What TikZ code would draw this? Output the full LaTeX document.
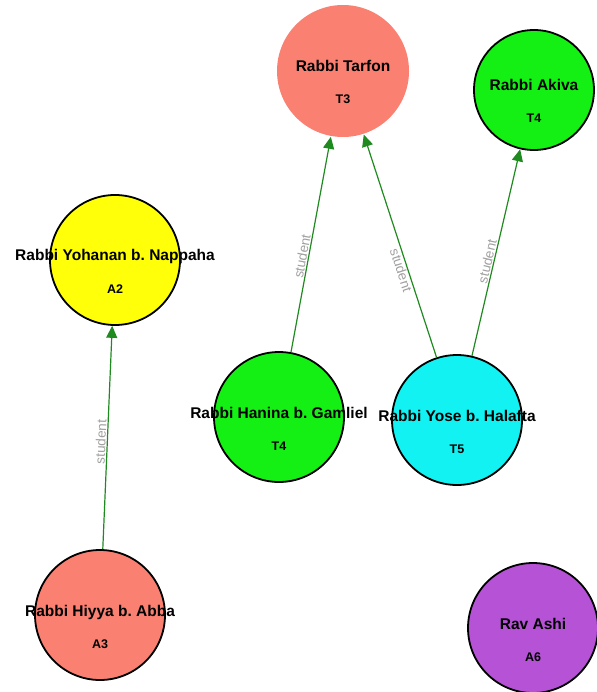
\documentclass[tikz,border=0pt]{standalone}
\usepackage{fontspec}
\setmainfont{Liberation Sans}
\usetikzlibrary{arrows.meta}
\definecolor{salmonfill}{HTML}{FA8072}
\definecolor{limefill}{HTML}{14F014}
\definecolor{yellowfill}{HTML}{FFFF0A}
\definecolor{cyanfill}{HTML}{12F2F2}
\definecolor{orchidfill}{HTML}{B552D5}
\definecolor{edgegreen}{HTML}{1F8A1F}
\definecolor{labelgray}{HTML}{A0A0A0}
\frenchspacing

\begin{document}
\begin{tikzpicture}[x=1pt,y=-1pt,>={Triangle[length=12pt,width=11pt]}]
\tikzstyle{person}=[circle,draw=black,line width=1.8pt,inner sep=0pt,minimum size=130pt]
\tikzstyle{rabbiname}=[anchor=base,inner sep=0pt,font=\fontsize{15.5}{17}\selectfont\bfseries]
\tikzstyle{eralabel}=[anchor=base,inner sep=0pt,font=\fontsize{12.5}{14}\selectfont\bfseries]
\tikzstyle{edge}=[->,draw=edgegreen,line width=1.2pt]
\tikzstyle{rel}=[sloped,inner sep=1pt,text=labelgray,font=\fontsize{13.5}{15}\selectfont]
\useasboundingbox (0,0) rectangle (596,692);
% rabbis
\node[person,fill=salmonfill,draw=none,minimum size=132pt] (tarfon) at (343,71) {};
\node[rabbiname] (tarfonname) at ([yshift=-1pt]tarfon.center) {Rabbi Tarfon};
\node[eralabel] (tarfonera) at ([yshift=-33pt]tarfon.center) {T3};
\node[person,fill=limefill,minimum size=120pt] (akiva) at (534,90) {};
\node[rabbiname] (akivaname) at ([yshift=-1pt]akiva.center) {Rabbi Akiva};
\node[eralabel] (akivaera) at ([yshift=-33pt]akiva.center) {T4};
\node[person,fill=yellowfill] (yohanan) at (115,260) {};
\node[rabbiname] (yohananname) at ([yshift=-1pt]yohanan.center) {Rabbi Yohanan b. Nappaha};
\node[eralabel] (yohananera) at ([yshift=-33pt]yohanan.center) {A2};
\node[person,fill=limefill] (hanina) at (279,417) {};
\node[rabbiname] (haninaname) at ([yshift=-1pt]hanina.center) {Rabbi Hanina b. Gamliel};
\node[eralabel] (haninaera) at ([yshift=-33pt]hanina.center) {T4};
\node[person,fill=cyanfill] (yose) at (457,420) {};
\node[rabbiname] (yosename) at ([yshift=-1pt]yose.center) {Rabbi Yose b. Halafta};
\node[eralabel] (yoseera) at ([yshift=-33pt]yose.center) {T5};
\node[person,fill=salmonfill] (hiyya) at (100,615) {};
\node[rabbiname] (hiyyaname) at ([yshift=-1pt]hiyya.center) {Rabbi Hiyya b. Abba};
\node[eralabel] (hiyyaera) at ([yshift=-33pt]hiyya.center) {A3};
\node[person,fill=orchidfill] (ashi) at (533,628) {};
\node[rabbiname] (ashiname) at ([yshift=-1pt]ashi.center) {Rav Ashi};
\node[eralabel] (ashiera) at ([yshift=-33pt]ashi.center) {A6};
% student links
\draw[edge] (hiyya) -- node[rel,above,pos=.48] {student} (yohanan);
\draw[edge] (hanina) -- node[rel,above,pos=.44] {student} (tarfon);
\draw[edge] (yose) -- node[rel,below,pos=.4] {student} (tarfon);
\draw[edge] (yose) -- node[rel,above,pos=.45] {student} (akiva);
\end{tikzpicture}
\end{document}
